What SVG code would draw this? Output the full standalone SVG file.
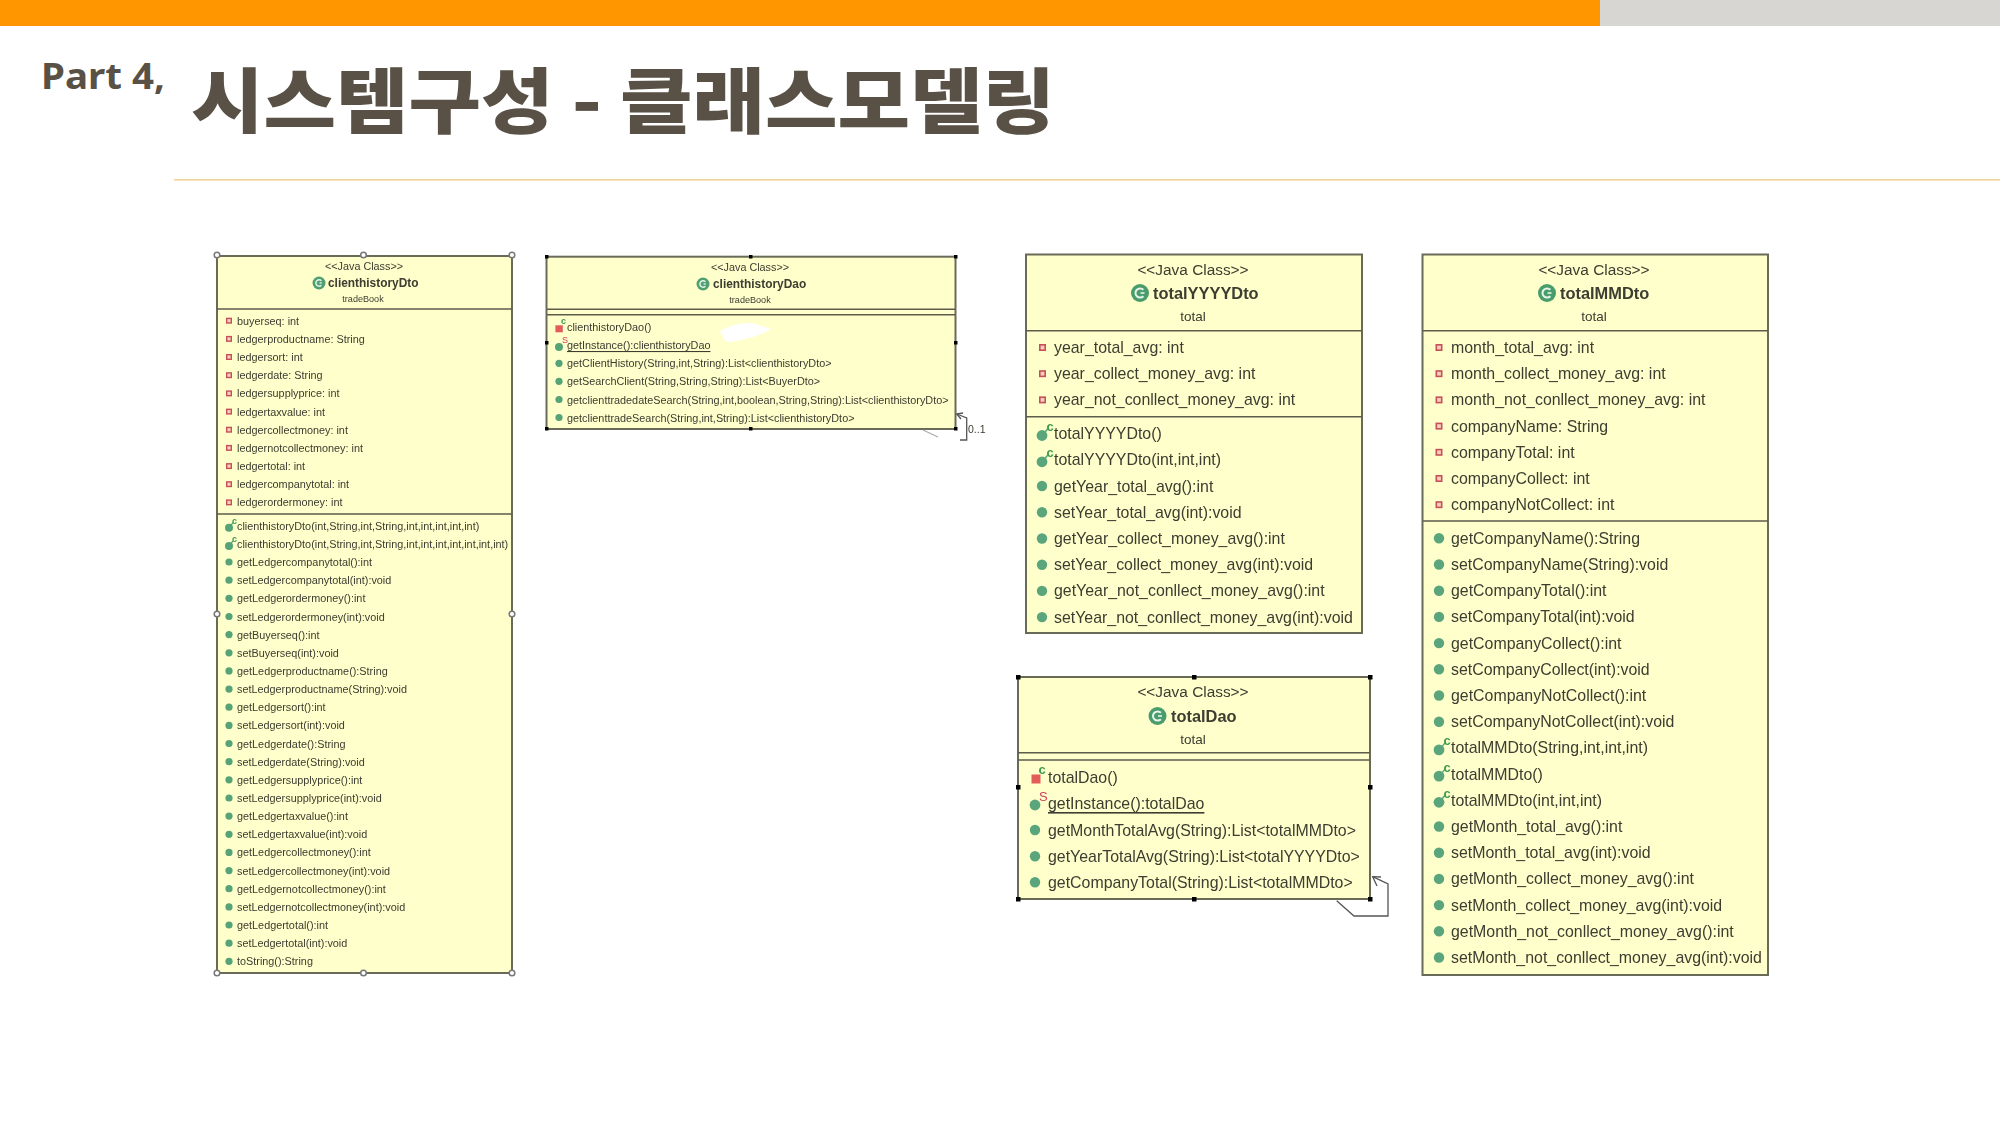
<svg xmlns="http://www.w3.org/2000/svg" width="2000" height="1125" viewBox="0 0 2000 1125">
<style>
text{font-family:"Liberation Sans",Arial,sans-serif;fill:#3c3c30;dominant-baseline:central}
.box{fill:#ffffcc;stroke:#6a6a58;stroke-width:2}
.sep{stroke:#5c5c4c;stroke-width:1.6;fill:none}
.c{text-anchor:middle}
.s{font-size:10.85px}
.sj{font-size:10.8px}
.sn{font-size:11.9px;font-weight:bold}
.sp{font-size:9.1px}
.l{font-size:15.9px}
.lj{font-size:15.4px}
.ln{font-size:16.4px;font-weight:bold}
.lp{font-size:13.5px}
.u{text-decoration:underline}
.hb{fill:#000}
.ho{fill:#fff;stroke:#777;stroke-width:1.5}
.conn{fill:none;stroke:#555;stroke-width:1.3}
.faint{fill:none;stroke:#aaa;stroke-width:1.2}
</style>
<defs>
<filter id="b5" x="-5%" y="-5%" width="110%" height="110%"><feGaussianBlur stdDeviation="0.55"/></filter>
<filter id="b3" x="-5%" y="-5%" width="110%" height="110%"><feGaussianBlur stdDeviation="0.35"/></filter>
<g id="fs"><rect x="-2.3" y="-2.3" width="4.6" height="4.6" fill="#f3d0b8" stroke="#c8505a" stroke-width="1.4"/></g>
<g id="ms"><circle r="3.6" fill="#55a377"/></g>
<g id="cs"><circle r="4" cy="2" fill="#55a377"/><path d="M1 1L4 -3" stroke="#55a377" stroke-width="1.2"/><text x="3" y="-5" font-size="9" font-weight="bold" style="fill:#3f9a50">c</text></g>
<g id="ss"><circle r="4" cy="2" fill="#55a377"/><text x="3" y="-5" font-size="9" style="fill:#d04060">S</text></g>
<g id="ps"><rect x="-3.6" y="-2" width="7.4" height="7" fill="#e35b5b"/><text x="2" y="-6" font-size="9" font-weight="bold" style="fill:#3f9a50">c</text></g>
<g id="fl"><rect x="-2.7" y="-2.7" width="5.4" height="5.4" fill="#f3d0b8" stroke="#c8505a" stroke-width="1.6"/></g>
<g id="ml"><circle r="5.2" fill="#5aa57c"/></g>
<g id="cl"><circle r="5.4" cy="2" fill="#5aa57c"/><path d="M2 0L6 -5" stroke="#5aa57c" stroke-width="1.5"/><text x="4.5" y="-7" font-size="13" font-weight="bold" style="fill:#3f9a50">c</text></g>
<g id="sl"><circle r="5.4" cy="2" fill="#5aa57c"/><text x="4" y="-7" font-size="13" style="fill:#d04060">S</text></g>
<g id="pl"><rect x="-4.5" y="-2.5" width="9" height="9" fill="#e35b5b"/><text x="2.5" y="-8" font-size="13" font-weight="bold" style="fill:#3f9a50">c</text></g>
<g id="ics"><circle r="6.5" fill="#4f9f70"/><path d="M2.4 -2.2A3.200 3.200 0 1 0 2.400 2.200" fill="none" stroke="#e6f4ea" stroke-width="1.5"/><path d="M0.500 0H3" stroke="#e6f4ea" stroke-width="1.2"/></g>
<g id="icl"><circle r="9" fill="#4a9c6c"/><path d="M3.400 -3.200A4.600 4.600 0 1 0 3.400 3.200" fill="none" stroke="#e6f4ea" stroke-width="2"/><path d="M0.500 0H4.500" stroke="#e6f4ea" stroke-width="1.600"/></g>
</defs>

<g id="header">
<rect x="0" y="0" width="1600" height="26" fill="#ff9600"/>
<rect x="1600" y="0" width="400" height="26" fill="#d8d6d2"/>
<rect x="174" y="179" width="1826" height="1.6" fill="#f0d39a"/>
<text x="41" y="75" font-size="36" font-weight="bold" textLength="124" lengthAdjust="spacingAndGlyphs" style="font-family:'Noto Sans',sans-serif;fill:#595145">Part 4,</text>
<text x="191" y="96" font-size="71" font-weight="900" textLength="864" lengthAdjust="spacingAndGlyphs" style="font-family:'Noto Sans CJK KR',sans-serif;fill:#595145">시스템구성 - 클래스모델링</text>
</g>

<g id="clienthistoryDto" filter="url(#b5)">
<rect class="box" x="217" y="256" width="295" height="717"/>
<path class="sep" d="M217 309H512M217 514H512"/>
<text class="sj c" x="364" y="266">&lt;&lt;Java Class&gt;&gt;</text>
<use href="#ics" x="319" y="283"/>
<text class="sn" x="328" y="283">clienthistoryDto</text>
<text class="sp c" x="363" y="299">tradeBook</text>
<use href="#fs" x="229" y="320.7"/><text class="s" x="237" y="320.7">buyerseq: int</text>
<use href="#fs" x="229" y="338.9"/><text class="s" x="237" y="338.9">ledgerproductname: String</text>
<use href="#fs" x="229" y="357"/><text class="s" x="237" y="357">ledgersort: int</text>
<use href="#fs" x="229" y="375.2"/><text class="s" x="237" y="375.2">ledgerdate: String</text>
<use href="#fs" x="229" y="393.4"/><text class="s" x="237" y="393.4">ledgersupplyprice: int</text>
<use href="#fs" x="229" y="411.6"/><text class="s" x="237" y="411.6">ledgertaxvalue: int</text>
<use href="#fs" x="229" y="429.7"/><text class="s" x="237" y="429.7">ledgercollectmoney: int</text>
<use href="#fs" x="229" y="447.9"/><text class="s" x="237" y="447.9">ledgernotcollectmoney: int</text>
<use href="#fs" x="229" y="466.1"/><text class="s" x="237" y="466.1">ledgertotal: int</text>
<use href="#fs" x="229" y="484.2"/><text class="s" x="237" y="484.2">ledgercompanytotal: int</text>
<use href="#fs" x="229" y="502.4"/><text class="s" x="237" y="502.4">ledgerordermoney: int</text>
<use href="#cs" x="229" y="525.7"/><text class="s" x="237" y="525.7">clienthistoryDto(int,String,int,String,int,int,int,int,int)</text>
<use href="#cs" x="229" y="543.9"/><text class="s" x="237" y="543.9">clienthistoryDto(int,String,int,String,int,int,int,int,int,int,int)</text>
<use href="#ms" x="229" y="562"/><text class="s" x="237" y="562">getLedgercompanytotal():int</text>
<use href="#ms" x="229" y="580.2"/><text class="s" x="237" y="580.2">setLedgercompanytotal(int):void</text>
<use href="#ms" x="229" y="598.3"/><text class="s" x="237" y="598.3">getLedgerordermoney():int</text>
<use href="#ms" x="229" y="616.5"/><text class="s" x="237" y="616.5">setLedgerordermoney(int):void</text>
<use href="#ms" x="229" y="634.6"/><text class="s" x="237" y="634.6">getBuyerseq():int</text>
<use href="#ms" x="229" y="652.8"/><text class="s" x="237" y="652.8">setBuyerseq(int):void</text>
<use href="#ms" x="229" y="670.9"/><text class="s" x="237" y="670.9">getLedgerproductname():String</text>
<use href="#ms" x="229" y="689.1"/><text class="s" x="237" y="689.1">setLedgerproductname(String):void</text>
<use href="#ms" x="229" y="707.2"/><text class="s" x="237" y="707.2">getLedgersort():int</text>
<use href="#ms" x="229" y="725.4"/><text class="s" x="237" y="725.4">setLedgersort(int):void</text>
<use href="#ms" x="229" y="743.5"/><text class="s" x="237" y="743.5">getLedgerdate():String</text>
<use href="#ms" x="229" y="761.7"/><text class="s" x="237" y="761.7">setLedgerdate(String):void</text>
<use href="#ms" x="229" y="779.8"/><text class="s" x="237" y="779.8">getLedgersupplyprice():int</text>
<use href="#ms" x="229" y="798"/><text class="s" x="237" y="798">setLedgersupplyprice(int):void</text>
<use href="#ms" x="229" y="816.1"/><text class="s" x="237" y="816.1">getLedgertaxvalue():int</text>
<use href="#ms" x="229" y="834.3"/><text class="s" x="237" y="834.3">setLedgertaxvalue(int):void</text>
<use href="#ms" x="229" y="852.4"/><text class="s" x="237" y="852.4">getLedgercollectmoney():int</text>
<use href="#ms" x="229" y="870.6"/><text class="s" x="237" y="870.6">setLedgercollectmoney(int):void</text>
<use href="#ms" x="229" y="888.7"/><text class="s" x="237" y="888.7">getLedgernotcollectmoney():int</text>
<use href="#ms" x="229" y="906.9"/><text class="s" x="237" y="906.9">setLedgernotcollectmoney(int):void</text>
<use href="#ms" x="229" y="925"/><text class="s" x="237" y="925">getLedgertotal():int</text>
<use href="#ms" x="229" y="943.2"/><text class="s" x="237" y="943.2">setLedgertotal(int):void</text>
<use href="#ms" x="229" y="961.3"/><text class="s" x="237" y="961.3">toString():String</text>
<circle class="ho" cx="217" cy="255" r="2.8"/><circle class="ho" cx="363.500" cy="255" r="2.8"/><circle class="ho" cx="512" cy="255" r="2.8"/>
<circle class="ho" cx="217" cy="614" r="2.8"/><circle class="ho" cx="512" cy="614" r="2.8"/>
<circle class="ho" cx="217" cy="973" r="2.8"/><circle class="ho" cx="363.500" cy="973" r="2.8"/><circle class="ho" cx="512" cy="973" r="2.8"/>
</g>

<g id="clienthistoryDao" filter="url(#b5)">
<rect class="box" x="546.500" y="256.700" width="409" height="172.300"/>
<path class="sep" d="M547 309.300H955M547 314.700H955"/>
<text class="sj c" x="750" y="267">&lt;&lt;Java Class&gt;&gt;</text>
<use href="#ics" x="703" y="284"/>
<text class="sn" x="713" y="284">clienthistoryDao</text>
<text class="sp c" x="750" y="300">tradeBook</text>
<use href="#ps" x="559" y="327.300"/><text class="s" x="567" y="327.300">clienthistoryDao()</text>
<use href="#ss" x="559" y="345"/><text class="s u" x="567" y="345">getInstance():clienthistoryDao</text>
<use href="#ms" x="559" y="363.300"/><text class="s" x="567" y="363.300">getClientHistory(String,int,String):List&lt;clienthistoryDto&gt;</text>
<use href="#ms" x="559" y="381.300"/><text class="s" x="567" y="381.300">getSearchClient(String,String,String):List&lt;BuyerDto&gt;</text>
<use href="#ms" x="559" y="399.500"/><text class="s" x="567" y="399.500">getclienttradedateSearch(String,int,boolean,String,String):List&lt;clienthistoryDto&gt;</text>
<use href="#ms" x="559" y="417.500"/><text class="s" x="567" y="417.500">getclienttradeSearch(String,int,String):List&lt;clienthistoryDto&gt;</text>
<path d="M720 331Q735 322 752 323Q765 327 771 329Q760 336 745 339Q730 343 725 341Z" fill="#fff"/>
<g class="hb"><rect x="545" y="255" width="3.500" height="3.500"/><rect x="749" y="255" width="3.500" height="3.500"/><rect x="954" y="255" width="3.500" height="3.500"/><rect x="545" y="341" width="3.500" height="3.500"/><rect x="954" y="341" width="3.500" height="3.500"/><rect x="545" y="427" width="3.500" height="3.500"/><rect x="749" y="427" width="3.500" height="3.500"/><rect x="954" y="427" width="3.500" height="3.500"/></g>
</g>

<g id="totalYYYYDto" filter="url(#b3)">
<rect class="box" x="1026" y="254.500" width="336" height="378.500"/>
<path class="sep" d="M1026 330.700H1362M1026 416.700H1362"/>
<text class="lj c" x="1193" y="269">&lt;&lt;Java Class&gt;&gt;</text>
<use href="#icl" x="1140" y="293"/>
<text class="ln" x="1153" y="293">totalYYYYDto</text>
<text class="lp c" x="1193" y="316.700">total</text>
<use href="#fl" x="1042.500" y="347.500"/><text class="l" x="1054" y="347.500">year_total_avg: int</text>
<use href="#fl" x="1042.500" y="373.700"/><text class="l" x="1054" y="373.700">year_collect_money_avg: int</text>
<use href="#fl" x="1042.500" y="399.900"/><text class="l" x="1054" y="399.900">year_not_conllect_money_avg: int</text>
<use href="#cl" x="1042" y="433.500"/><text class="l" x="1054" y="433.500">totalYYYYDto()</text>
<use href="#cl" x="1042" y="459.800"/><text class="l" x="1054" y="459.800">totalYYYYDto(int,int,int)</text>
<use href="#ml" x="1042" y="486"/><text class="l" x="1054" y="486">getYear_total_avg():int</text>
<use href="#ml" x="1042" y="512.200"/><text class="l" x="1054" y="512.200">setYear_total_avg(int):void</text>
<use href="#ml" x="1042" y="538.500"/><text class="l" x="1054" y="538.500">getYear_collect_money_avg():int</text>
<use href="#ml" x="1042" y="564.700"/><text class="l" x="1054" y="564.700">setYear_collect_money_avg(int):void</text>
<use href="#ml" x="1042" y="590.900"/><text class="l" x="1054" y="590.900">getYear_not_conllect_money_avg():int</text>
<use href="#ml" x="1042" y="617.100"/><text class="l" x="1054" y="617.100">setYear_not_conllect_money_avg(int):void</text>
</g>

<g id="totalMMDto" filter="url(#b3)">
<rect class="box" x="1422.500" y="254.500" width="345.500" height="720.500"/>
<path class="sep" d="M1423 330.700H1768M1423 521H1768"/>
<text class="lj c" x="1594" y="269">&lt;&lt;Java Class&gt;&gt;</text>
<use href="#icl" x="1547" y="293"/>
<text class="ln" x="1560" y="293">totalMMDto</text>
<text class="lp c" x="1594" y="316.700">total</text>
<use href="#fl" x="1439" y="347.500"/><text class="l" x="1451" y="347.500">month_total_avg: int</text>
<use href="#fl" x="1439" y="373.700"/><text class="l" x="1451" y="373.700">month_collect_money_avg: int</text>
<use href="#fl" x="1439" y="399.900"/><text class="l" x="1451" y="399.900">month_not_conllect_money_avg: int</text>
<use href="#fl" x="1439" y="426.100"/><text class="l" x="1451" y="426.100">companyName: String</text>
<use href="#fl" x="1439" y="452.300"/><text class="l" x="1451" y="452.300">companyTotal: int</text>
<use href="#fl" x="1439" y="478.500"/><text class="l" x="1451" y="478.500">companyCollect: int</text>
<use href="#fl" x="1439" y="504.700"/><text class="l" x="1451" y="504.700">companyNotCollect: int</text>
<use href="#ml" x="1439" y="538.300"/><text class="l" x="1451" y="538.300">getCompanyName():String</text>
<use href="#ml" x="1439" y="564.500"/><text class="l" x="1451" y="564.500">setCompanyName(String):void</text>
<use href="#ml" x="1439" y="590.700"/><text class="l" x="1451" y="590.700">getCompanyTotal():int</text>
<use href="#ml" x="1439" y="616.900"/><text class="l" x="1451" y="616.900">setCompanyTotal(int):void</text>
<use href="#ml" x="1439" y="643.100"/><text class="l" x="1451" y="643.100">getCompanyCollect():int</text>
<use href="#ml" x="1439" y="669.300"/><text class="l" x="1451" y="669.300">setCompanyCollect(int):void</text>
<use href="#ml" x="1439" y="695.500"/><text class="l" x="1451" y="695.500">getCompanyNotCollect():int</text>
<use href="#ml" x="1439" y="721.700"/><text class="l" x="1451" y="721.700">setCompanyNotCollect(int):void</text>
<use href="#cl" x="1439" y="747.900"/><text class="l" x="1451" y="747.900">totalMMDto(String,int,int,int)</text>
<use href="#cl" x="1439" y="774.100"/><text class="l" x="1451" y="774.100">totalMMDto()</text>
<use href="#cl" x="1439" y="800.300"/><text class="l" x="1451" y="800.300">totalMMDto(int,int,int)</text>
<use href="#ml" x="1439" y="826.500"/><text class="l" x="1451" y="826.500">getMonth_total_avg():int</text>
<use href="#ml" x="1439" y="852.700"/><text class="l" x="1451" y="852.700">setMonth_total_avg(int):void</text>
<use href="#ml" x="1439" y="878.900"/><text class="l" x="1451" y="878.900">getMonth_collect_money_avg():int</text>
<use href="#ml" x="1439" y="905.100"/><text class="l" x="1451" y="905.100">setMonth_collect_money_avg(int):void</text>
<use href="#ml" x="1439" y="931.300"/><text class="l" x="1451" y="931.300">getMonth_not_conllect_money_avg():int</text>
<use href="#ml" x="1439" y="957.500"/><text class="l" x="1451" y="957.500">setMonth_not_conllect_money_avg(int):void</text>
</g>

<g id="totalDao" filter="url(#b3)">
<rect class="box" x="1018" y="677" width="352" height="222"/>
<path class="sep" d="M1018 752.700H1370M1018 760H1370"/>
<text class="lj c" x="1193" y="691.500">&lt;&lt;Java Class&gt;&gt;</text>
<use href="#icl" x="1157.500" y="716"/>
<text class="ln" x="1171" y="716">totalDao</text>
<text class="lp c" x="1193" y="739">total</text>
<use href="#pl" x="1036" y="777"/><text class="l" x="1048" y="777.500">totalDao()</text>
<use href="#sl" x="1035" y="803"/><text class="l u" x="1048" y="803.500">getInstance():totalDao</text>
<use href="#ml" x="1035" y="830"/><text class="l" x="1048" y="830">getMonthTotalAvg(String):List&lt;totalMMDto&gt;</text>
<use href="#ml" x="1035" y="856.200"/><text class="l" x="1048" y="856.200">getYearTotalAvg(String):List&lt;totalYYYYDto&gt;</text>
<use href="#ml" x="1035" y="882.300"/><text class="l" x="1048" y="882.300">getCompanyTotal(String):List&lt;totalMMDto&gt;</text>
<g class="hb"><rect x="1016" y="675" width="4.500" height="4.500"/><rect x="1192" y="675" width="4.500" height="4.500"/><rect x="1368" y="675" width="4.500" height="4.500"/><rect x="1016" y="785" width="4.500" height="4.500"/><rect x="1368" y="785" width="4.500" height="4.500"/><rect x="1016" y="897" width="4.500" height="4.500"/><rect x="1192" y="897" width="4.500" height="4.500"/><rect x="1368" y="897" width="4.500" height="4.500"/></g>
</g>

<g id="connectors">
<path class="conn" d="M956.700 414L966.700 418V440H960"/>
<path class="conn" d="M963 413L956.700 414L961 419"/>
<path class="faint" d="M923 430L938 437"/>
<text x="968" y="429" font-size="10.500" filter="url(#b5)">0..1</text>
<path class="conn" d="M1372.700 876.700L1388 884V916H1354L1336.700 900.700"/>
<path class="conn" d="M1381 877L1372.700 876.700L1377 886"/>
</g>
</svg>
